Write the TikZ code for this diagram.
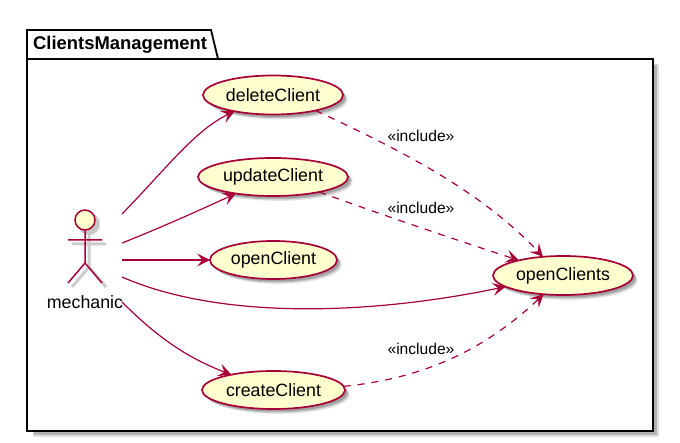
\documentclass[tikz,border=0pt]{standalone}
\usepackage{fontspec}
\setmainfont{Liberation Sans}
\usetikzlibrary{shapes.geometric,shadows,arrows.meta}
\definecolor{umlline}{HTML}{A80036}
\definecolor{umlfill}{HTML}{FEFECE}
\tikzset{
  softshadow/.style={
    general shadow={fill=black,opacity=.14,shadow xshift=2.5pt,shadow yshift=-2.5pt},
    general shadow={fill=black,opacity=.16,shadow xshift=3.5pt,shadow yshift=-3.5pt},
    general shadow={fill=black,opacity=.12,shadow xshift=4.8pt,shadow yshift=-4.8pt}},
  usecase/.style={ellipse,draw=umlline,fill=umlfill,line width=1.7pt,inner sep=0pt,outer sep=0pt,
    font=\fontsize{17.8}{20}\selectfont,softshadow},
  rel/.style={draw=umlline,line width=1.2pt,-{Stealth[length=13pt,width=13pt,inset=5.5pt]}},
  incl/.style={rel,dash pattern=on 7pt off 7pt},
  incllabel/.style={font=\fontsize{15.6}{18}\selectfont,inner sep=0pt},
  actorline/.style={draw=umlline,line width=1.5pt},
  actorshade/.style={draw=black!20,line width=3pt},
  pkg/.style={draw=black,line width=1.8pt,fill=white},
}
\begin{document}
\begin{tikzpicture}[x=1pt,y=-1pt]
\useasboundingbox (0,0) rectangle (680,443);
% package shadow
\fill[black!12] (33,64) rectangle (659,437);
\fill[black!30] (34,65) rectangle (657,435);
\fill[black!15] (213,35) -- (221,64) -- (200,64) -- (200,35) -- cycle;
% package
\draw[pkg] (27,59) -- (27,30) -- (211,30) -- (218,59) -- (653,59) -- (653,431) -- (27,431) -- cycle;
\draw[black,line width=1.8pt] (27,59) -- (218,59);
\node[anchor=west,inner sep=0pt,font=\fontsize{18.4}{22}\selectfont\bfseries] (pkgtitle) at (33,44.5) {ClientsManagement};
% actor shadow
\draw[actorshade] (89,234) -- (89,267) (72,244) -- (106,244) (72,287) -- (89,267) -- (106,287);
\fill[black!22] (89,224) circle (11);
% actor
\node[circle,draw=umlline,fill=umlfill,line width=1.5pt,minimum size=20pt,inner sep=0pt] (head) at (85,220) {};
\coordinate (hip) at (85,263);
\coordinate (armL) at (68,240);
\coordinate (armR) at (102,240);
\coordinate (footL) at (68,283);
\coordinate (footR) at (102,283);
\draw[actorline] (head) -- (hip) (armL) -- (armR) (footL) -- (hip) -- (footR);
\node[font=\fontsize{17.8}{20}\selectfont,inner sep=0pt] (mechanic) at (85,302) {mechanic};
% free ends at the actor
\coordinate (s1) at (122,214);
\coordinate (s2) at (122,243);
\coordinate (s3) at (122,260);
\coordinate (s4) at (122,277);
\coordinate (s5) at (122,302);
% use cases
\node[usecase,minimum width=140pt,minimum height=39pt] (delete) at (273,95) {\raisebox{-1.2pt}{deleteClient}};
\node[usecase,minimum width=150pt,minimum height=38pt] (update) at (273,177) {\raisebox{-1.2pt}{updateClient}};
\node[usecase,minimum width=127pt,minimum height=38pt] (open) at (273.5,260) {\raisebox{-1.2pt}{openClient}};
\node[usecase,minimum width=143pt,minimum height=38pt] (create) at (273.5,390) {\raisebox{-1.2pt}{createClient}};
\node[usecase,minimum width=140pt,minimum height=39pt] (clients) at (563,275.5) {\raisebox{-1.2pt}{openClients}};
% connectors
\draw[rel] (s1) .. controls (165,170) and (195,130) .. (delete.203);
\draw[rel] (s2) .. controls (160,228) and (200,210) .. (update.204);
\draw[rel] (s3) -- (open.180);
\draw[rel] (s4) .. controls (220,320) and (370,315) .. (clients.191);
\draw[rel] (s5) .. controls (155,335) and (185,357) .. (create.160);
\draw[incl] (delete.-20) .. controls (400,150) and (480,190) .. (clients.137);
\draw[incl] (update.-18) .. controls (380,214) and (450,238) .. (clients.161);
\draw[incl] (create.3) .. controls (430,378) and (490,345) .. (clients.224);
% labels
\node[incllabel] (l1) at (421,136) {«include»};
\node[incllabel] (l2) at (421,208) {«include»};
\node[incllabel] (l3) at (421,349) {«include»};
\end{tikzpicture}
\end{document}
